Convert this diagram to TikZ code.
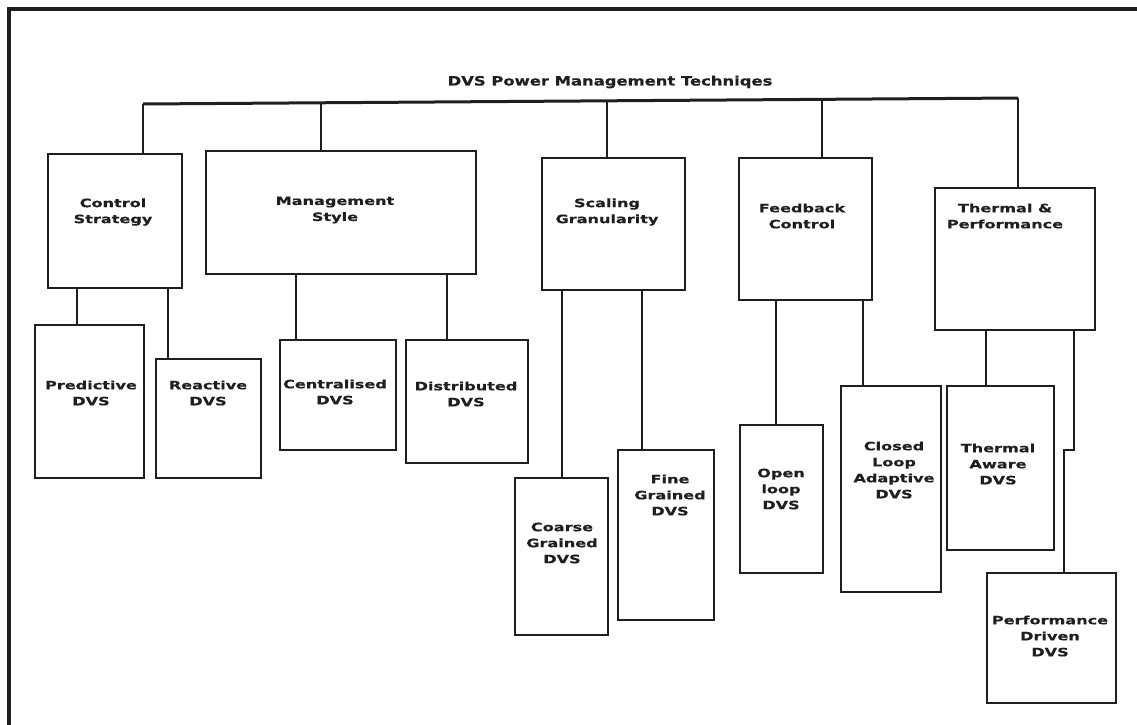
\documentclass[tikz,border=0pt]{standalone}
\usepackage{fontspec}
\usepackage{tikz}
\newfontfamily\boxfont{DejaVu Sans}[FakeStretch=1.4, FakeBold=0.6]
\newfontfamily\titlefont{DejaVu Sans}[FakeStretch=1.28, FakeBold=0.6]
\definecolor{ink}{gray}{0.12}

\begin{document}
\begin{tikzpicture}[x=1pt, y=-1pt, color=ink,
		box/.style = {draw, line width=1.8pt, inner sep=0pt, anchor=north west},
		lbl/.style = {align=center, inner sep=0pt, text=ink,
			font=\boxfont\bfseries\fontsize{11.5}{16}\selectfont},
		link/.style = {line width=1.4pt}]
		\useasboundingbox (0,0) rectangle (1137,725);
		% frame
		\draw[line width=4pt] (9,740) -- (9,9) -- (1150,9);
		% title and bus
		\node[inner sep=0pt, text=ink, font=\titlefont\bfseries\fontsize{12.8}{15}\selectfont]
			(root) at (610,82) {DVS Power Management Techniqes};
		\coordinate (b1) at (143,104);
		\coordinate (b2) at (321,102.8);
		\coordinate (b3) at (607,100.8);
		\coordinate (b4) at (822,99.3);
		\coordinate (b5) at (1018,98);
		\draw[line width=3pt] (b1) -- (b5);
		% first level
		\node[box, minimum width=134, minimum height=134] (cs) at (47,153) {};
		\node[box, minimum width=270, minimum height=123] (ms) at (205,150) {};
		\node[box, minimum width=143, minimum height=132] (sg) at (541,157) {};
		\node[box, minimum width=133, minimum height=142] (fc) at (738,157) {};
		\node[box, minimum width=160, minimum height=142] (tp) at (934,187) {};
		\node[lbl] (cs-t) at (113,212) {Control\\Strategy};
		\node[lbl] (ms-t) at (335,210) {Management\\Style};
		\node[lbl] (sg-t) at (607,212) {Scaling\\Granularity};
		\node[lbl] (fc-t) at (802,216) {Feedback\\Control};
		\node[lbl] (tp-t) at (1005,216) {Thermal \&\\Performance};
		\foreach \b/\n in {b1/cs, b2/ms, b3/sg, b4/fc, b5/tp}
			\draw[link] (\b) -- (\b |- \n.north);
		% second level
		\node[box, minimum width=109, minimum height=153] (pd) at (34,324) {};
		\node[box, minimum width=105, minimum height=119] (rd) at (155,358) {};
		\node[box, minimum width=116, minimum height=110] (cd) at (279,339) {};
		\node[box, minimum width=122, minimum height=123] (dd) at (405,339) {};
		\node[box, minimum width=93, minimum height=157] (cg) at (514,477) {};
		\node[box, minimum width=96, minimum height=170] (fg) at (617,449) {};
		\node[box, minimum width=83, minimum height=148] (ol) at (739,424) {};
		\node[box, minimum width=100, minimum height=206] (cl) at (840,385) {};
		\node[box, minimum width=107, minimum height=164] (ta) at (946,385) {};
		\node[box, minimum width=129, minimum height=130] (pv) at (986,572) {};
		\node[lbl] (pd-t) at (91,393) {Predictive\\DVS};
		\node[lbl] (rd-t) at (208,393) {Reactive\\DVS};
		\node[lbl] (cd-t) at (335,392) {Centralised\\DVS};
		\node[lbl] (dd-t) at (466,394) {Distributed\\DVS};
		\node[lbl] (cg-t) at (562,543) {Coarse\\Grained\\DVS};
		\node[lbl] (fg-t) at (670,495) {Fine\\Grained\\DVS};
		\node[lbl] (ol-t) at (781,489) {Open\\loop\\DVS};
		\node[lbl] (cl-t) at (894,470) {Closed\\Loop\\Adaptive\\DVS};
		\node[lbl] (ta-t) at (998,464) {Thermal\\Aware\\DVS};
		\node[lbl] (pv-t) at (1050,636) {Performance\\Driven\\DVS};
		% links parent to child
		\foreach \p/\c/\x in {cs/pd/77, cs/rd/168, ms/cd/296, ms/dd/447,
			sg/cg/562, sg/fg/642, fc/ol/776, fc/cl/863, tp/ta/986}
			\draw[link] (\p.south -| \x,0) -- (\c.north -| \x,0);
		\draw[link] (tp.south -| 1074,0) |- (1064,450) -- (pv.north -| 1064,0);
	\end{tikzpicture}
\end{document}
